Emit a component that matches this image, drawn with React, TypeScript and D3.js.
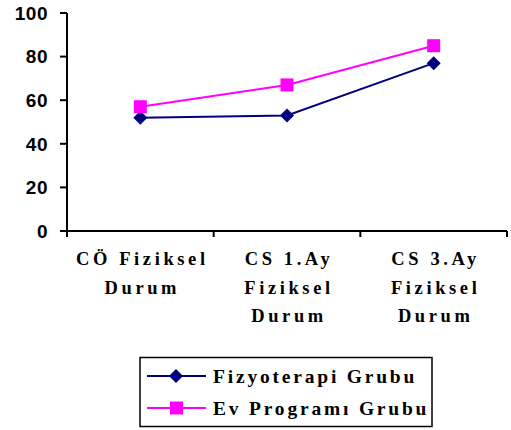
import React from "react";
import * as d3 from "d3";

const categories: string[][] = [
  ["CÖ Fiziksel", "Durum"],
  ["CS 1.Ay", "Fiziksel", "Durum"],
  ["CS 3.Ay", "Fiziksel", "Durum"],
];
const fizyoterapi: number[] = [52, 53, 77];
const evProgrami: number[] = [57, 67, 85];
const yTicks: number[] = [0, 20, 40, 60, 80, 100];
const seriesNames: string[] = ["Fizyoterapi Grubu", "Ev Programı Grubu"];

const NAVY = "#000080";
const MAGENTA = "#FF00FF";

const serifStyle: React.CSSProperties = {
  fontFamily: '"Liberation Serif", serif',
  fontWeight: 700,
};
const sansStyle: React.CSSProperties = {
  fontFamily: '"Liberation Sans", sans-serif',
  fontWeight: 700,
};

export default function App() {
  const width = 511;
  const height = 430;
  const left = 67;
  const right = 507;
  const top = 13;
  const bottom = 231;

  const x = d3
    .scaleBand<number>()
    .domain(categories.map((_, i) => i))
    .range([left, right])
    .padding(0);
  const y = d3.scaleLinear().domain([0, 100]).range([bottom, top]);

  const cx = (i: number) => (x(i) as number) + x.bandwidth() / 2;
  const line = d3
    .line<number>()
    .x((_, i) => cx(i))
    .y((d) => y(d));

  const boundaries = [...categories.map((_, i) => x(i) as number), right];

  const diamond = (px: number, py: number, r: number) =>
    `M${px},${py - r}L${px + r},${py}L${px},${py + r}L${px - r},${py}Z`;

  return (
    <svg
      width={width}
      height={height}
      style={{ position: "absolute", left: 0, top: 0, background: "#fff" }}
    >
      {/* y axis */}
      <line x1={left} x2={left} y1={top} y2={bottom} stroke="#000" strokeWidth={2} />
      {yTicks.map((t) => (
        <g key={t}>
          <line x1={left - 7} x2={left} y1={y(t)} y2={y(t)} stroke="#000" strokeWidth={2} />
          <text
            x={left - 19}
            y={y(t)}
            dy="0.36em"
            textAnchor="end"
            style={{ ...sansStyle, fontSize: "19px", letterSpacing: "0.5px" }}
            fill="#000"
          >
            {t}
          </text>
        </g>
      ))}

      {/* x axis */}
      <line x1={left} x2={right} y1={bottom} y2={bottom} stroke="#000" strokeWidth={2} />
      {boundaries.map((b, i) => (
        <line key={i} x1={b} x2={b} y1={bottom} y2={bottom + 6} stroke="#000" strokeWidth={2} />
      ))}
      {categories.map((lines, i) => (
        <text
          key={i}
          textAnchor="middle"
          style={{ ...serifStyle, fontSize: "18.5px", letterSpacing: "3.6px" }}
          fill="#000"
        >
          {lines.map((l, j) => (
            <tspan key={j} x={cx(i) + 2} y={265 + j * 28.5}>
              {l}
            </tspan>
          ))}
        </text>
      ))}

      {/* series */}
      <path d={line(fizyoterapi) ?? ""} fill="none" stroke={NAVY} strokeWidth={2} />
      <path d={line(evProgrami) ?? ""} fill="none" stroke={MAGENTA} strokeWidth={2} />
      {fizyoterapi.map((v, i) => (
        <path key={i} d={diamond(cx(i), y(v), 7)} fill={NAVY} />
      ))}
      {evProgrami.map((v, i) => (
        <rect key={i} x={cx(i) - 6.5} y={y(v) - 6.5} width={13} height={13} fill={MAGENTA} />
      ))}

      {/* legend */}
      <rect x={140} y={357.5} width={292} height={69} fill="#fff" stroke="#000" strokeWidth={1.5} />
      {seriesNames.map((name, i) => {
        const ly = 376 + i * 32;
        return (
          <g key={name}>
            <line
              x1={147}
              x2={206}
              y1={ly}
              y2={ly}
              stroke={i === 0 ? NAVY : MAGENTA}
              strokeWidth={2}
            />
            {i === 0 ? (
              <path d={diamond(176, ly, 7)} fill={NAVY} />
            ) : (
              <rect x={170} y={ly - 6.5} width={13} height={13} fill={MAGENTA} />
            )}
            <text
              x={213}
              y={ly + 7}
              style={{ ...serifStyle, fontSize: "19.5px", letterSpacing: "2.8px" }}
              fill="#000"
            >
              {name}
            </text>
          </g>
        );
      })}
    </svg>
  );
}
